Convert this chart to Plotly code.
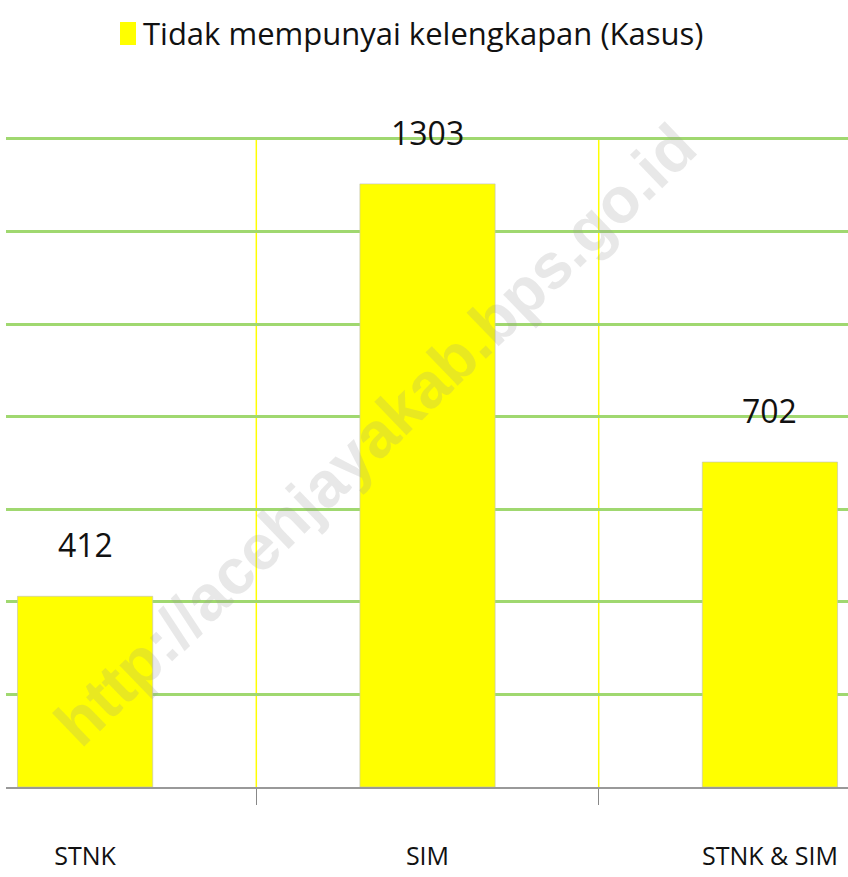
import plotly.graph_objects as go

categories = ["STNK", "SIM", "STNK & SIM"]
values = [412, 1303, 702]
series_name = "Tidak mempunyai kelengkapan (Kasus)"
watermark = "http://acehjayakab.bps.go.id"

FONT = "Open Sans"
YELLOW = "#FFFF00"

fig = go.Figure()
fig.add_trace(go.Bar(
    x=categories, y=values, name=series_name,
    marker=dict(color=YELLOW, line=dict(color="rgba(190,190,190,0.6)", width=1)),
    width=0.395, showlegend=False,
))

for c, v in zip(categories, values):
    fig.add_annotation(x=c, y=v, text=str(v), showarrow=False, yanchor="bottom",
                       yshift=28, font=dict(family=FONT, size=32, color="#111"))

# category boundary lines (vertical yellow grid)
for b in [0.5, 1.5]:
    fig.add_shape(type="line", xref="x", yref="y", x0=b, x1=b, y0=0, y1=1400,
                  line=dict(color=YELLOW, width=1.5), layer="below")

# legend (square + text)
fig.add_shape(type="rect", xref="paper", yref="paper", x0=(120-6)/842, x1=(136-6)/842,
              y0=(877-45-90)/657, y1=(877-22-90)/657, fillcolor=YELLOW, line=dict(width=0))
fig.add_annotation(xref="paper", yref="paper", x=(141-6)/842, y=(877-33-90)/657,
                   xanchor="left", yanchor="middle", showarrow=False, text=series_name,
                   font=dict(family=FONT, size=31, color="#111"))

# watermark
fig.add_annotation(xref="paper", yref="paper", x=(375-6)/842, y=(877-435-90)/657,
                   text=watermark, showarrow=False, textangle=-44,
                   font=dict(family="Liberation Sans", size=64, color="rgba(150,150,150,0.22)",
                             weight="bold"))

fig.update_layout(
    width=848, height=877,
    margin=dict(l=6, r=0, t=130, b=90),
    plot_bgcolor="white", paper_bgcolor="white",
    xaxis=dict(
        type="category", range=[-0.231, 2.228],
        showgrid=False,
        tickson="boundaries", ticks="outside", ticklen=16, tickcolor="#888", tickwidth=1,
        showline=True, linecolor="#999", linewidth=2,
        tickfont=dict(family=FONT, size=25, color="#111"),
        ticklabelstandoff=46,
    ),
    yaxis=dict(
        range=[0, 1419.4], dtick=200, showticklabels=False,
        showgrid=True, gridcolor="#A0D870", gridwidth=3,
        zeroline=False, showline=False, ticks="",
    ),
)

fig.write_html("out.html", config={"displayModeBar": False},
               post_script="document.body.style.margin='0px';")
